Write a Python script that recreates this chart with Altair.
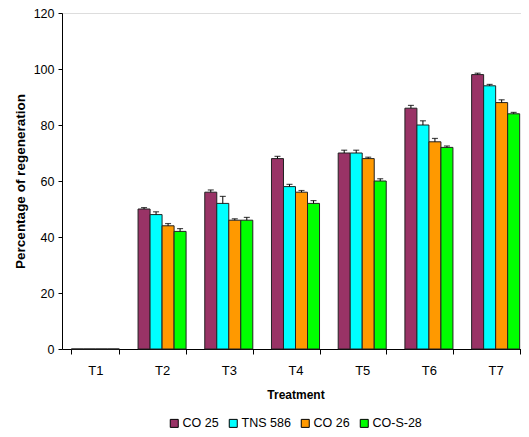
import altair as alt
import pandas as pd

treatments = ["T1", "T2", "T3", "T4", "T5", "T6", "T7"]
varieties = ["CO 25", "TNS 586", "CO 26", "CO-S-28"]
co25 = [0, 50, 56, 68, 70, 86, 98]
tns586 = [0, 48, 52, 58, 70, 80, 94]
co26 = [0, 44, 46, 56, 68, 74, 88]
cos28 = [0, 42, 46, 52, 60, 72, 84]
err_co25 = [0, 0.5, 0.8, 0.8, 1.0, 1.0, 0.5]
err_tns586 = [0, 1.0, 2.5, 0.8, 1.0, 1.5, 0.5]
err_co26 = [0, 0.8, 0.5, 0.6, 0.5, 1.2, 1.0]
err_cos28 = [0, 1.0, 1.0, 1.0, 0.8, 0.5, 0.5]
colors = ["#993366", "#00FFFF", "#FF9900", "#00FF00"]

rows = []
for v, vals, errs in zip(varieties, [co25, tns586, co26, cos28],
                         [err_co25, err_tns586, err_co26, err_cos28]):
    for t, val, e in zip(treatments, vals, errs):
        rows.append({"Treatment": t, "Variety": v, "value": val,
                     "hi": val + e, "err": e})
df = pd.DataFrame(rows)

FONT = "Liberation Sans Narrow, Liberation Sans, Arial"

x = alt.X("Treatment:N", sort=treatments,
          scale=alt.Scale(paddingInner=0.28, paddingOuter=0.14),
          axis=alt.Axis(title="Treatment", labelAngle=0, tickBand="extent",
                        labelPadding=10, tickSize=5, titlePadding=12,
                        titleFontWeight="bold", titleFont="Liberation Sans",
                        titleFontSize=12, labelFontSize=13, labelFont=FONT,
                        domainColor="black", tickColor="black", labelColor="black"))
xo = alt.XOffset("Variety:N", sort=varieties, scale=alt.Scale(paddingInner=0, paddingOuter=0))

base = alt.Chart(df)

bars = base.mark_bar(stroke="#222222", strokeWidth=1).encode(
    x=x,
    xOffset=xo,
    y=alt.Y("value:Q", scale=alt.Scale(domain=[0, 120]),
            axis=alt.Axis(title="Percentage of regeneration", values=[0, 20, 40, 60, 80, 100, 120],
                          grid=False, tickSize=4, labelPadding=4, titlePadding=6,
                          titleFontWeight="bold", titleFont="Liberation Sans",
                          titleFontSize=13.5, labelFontSize=12.5, labelFont=FONT,
                          domainColor="black", tickColor="black", labelColor="black")),
    fill=alt.Fill("Variety:N", sort=varieties,
                  scale=alt.Scale(domain=varieties, range=colors),
                  legend=alt.Legend(title=None, orient="none", direction="horizontal",
                                    legendX=106, legendY=404, symbolType="square",
                                    symbolSize=64, symbolStrokeColor="black",
                                    symbolStrokeWidth=1, labelFontSize=12.5,
                                    labelFont=FONT, labelColor="black",
                                    labelOffset=2, columnPadding=8)),
)

rules = base.mark_rule(color="black", strokeWidth=1).encode(
    x=x, xOffset=xo, y="value:Q", y2="hi:Q"
)
caps = base.transform_filter("datum.err > 0").mark_tick(
    color="black", thickness=1.2, size=6, orient="horizontal").encode(
    x=x, xOffset=xo, y="hi:Q"
)

chart = alt.layer(bars, rules, caps).properties(
    width=467, height=336,
    autosize=alt.AutoSizeParams(type="none"),
    padding={"left": 54, "top": 5, "right": -8, "bottom": 80},
).configure_view(
    fill="#E2DACE", stroke="black", strokeWidth=1
).configure(background="white")

chart.save("out.html", embed_options={"renderer": "svg", "actions": False})
